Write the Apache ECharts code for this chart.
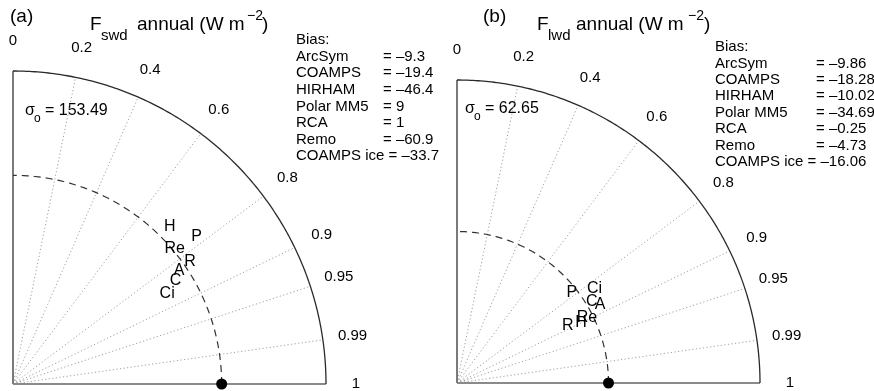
<!DOCTYPE html>
<html><head><meta charset="utf-8">
<script src="https://cdn.jsdelivr.net/npm/echarts@6/dist/echarts.min.js"></script>
<style>html,body{margin:0;padding:0;background:#fff}#c{width:874px;height:391px}</style>
</head><body><div id="c"></div>
<script>
// ---- data ----
const corrTicks = [0, 0.2, 0.4, 0.6, 0.8, 0.9, 0.95, 0.99, 1];
const corrTickLabels = ['0', '0.2', '0.4', '0.6', '0.8', '0.9', '0.95', '0.99', '1'];
const modelCodes = ['A', 'C', 'H', 'P', 'R', 'Re', 'Ci'];
const modelNames = ['ArcSym', 'COAMPS', 'HIRHAM', 'Polar MM5', 'RCA', 'Remo', 'COAMPS ice'];

// (a) F_swd annual: normalized std dev, correlation, bias
const swdStd = [0.964, 0.923, 1.065, 1.128, 1.031, 1.012, 0.856];
const swdCorr = [0.826, 0.844, 0.706, 0.780, 0.823, 0.766, 0.863];
const swdBias = ['-9.3', '-19.4', '-46.4', '9', '1', '-60.9', '-33.7'];
const swdSigmaObs = '153.49';
const swdStdMax = 1.5;

// (b) F_lwd annual
const lwdStd = [1.077, 1.041, 0.909, 0.964, 0.825, 0.959, 1.100];
const lwdCorr = [0.877, 0.855, 0.900, 0.787, 0.887, 0.894, 0.825];
const lwdBias = ['-9.86', '-18.28', '-10.02', '-34.69', '-0.25', '-4.73', '-16.06'];
const lwdSigmaObs = '62.65';
const lwdStdMax = 2.0;

// ---- layout ----
const FONT = '"Liberation Sans", Arial, Helvetica, sans-serif';
const panels = [
  { std: swdStd, corr: swdCorr, max: swdStdMax, bias: swdBias, sigma: swdSigmaObs,
    grid: { left: 13, top: 71, size: 313 }, letter: '(a)', sub: 'swd',
    title: { lx: 10, fx: 90, sx: 101, ax: 137, px: 247, cx: 262 },
    leg: { x: 296, ex: 383, y: 40, dy: 16.6 }, sig: { x: 25, y: 111 } },
  { std: lwdStd, corr: lwdCorr, max: lwdStdMax, bias: lwdBias, sigma: lwdSigmaObs,
    grid: { left: 457, top: 80, size: 303 }, letter: '(b)', sub: 'lwd',
    title: { lx: 483, fx: 537, sx: 548, ax: 576, px: 688, cx: 704 },
    leg: { x: 715, ex: 816, y: 47, dy: 16.4 }, sig: { x: 465, y: 109 } }
];

function fmtBias(s) { return s.charAt(0) === '-' ? '\u2013' + s.slice(1) : s; }
function polar(s, c) { const t = Math.acos(c); return [s * Math.cos(t), s * Math.sin(t)]; }
function arc(r) { const pts = []; for (let a = 0; a <= 90.001; a += 0.5) { const t = a * Math.PI / 180; pts.push([r * Math.cos(t), r * Math.sin(t)]); } return pts; }

const grids = [], xAxes = [], yAxes = [], series = [], graphics = [];
panels.forEach((p, i) => {
  grids.push({ left: p.grid.left, top: p.grid.top, width: p.grid.size, height: p.grid.size });
  xAxes.push({ gridIndex: i, type: 'value', min: 0, max: p.max, show: false });
  yAxes.push({ gridIndex: i, type: 'value', min: 0, max: p.max, show: false });
  const base = { xAxisIndex: i, yAxisIndex: i, type: 'line', symbol: 'none', silent: true, animation: false, clip: false };
  // correlation rays
  corrTicks.filter(c => c > 0 && c < 1).forEach(c => {
    series.push(Object.assign({}, base, { data: [[0, 0], polar(p.max, c)], lineStyle: { color: '#a0a0a0', width: 1, type: [1.2, 2.4] } }));
  });
  // axes
  series.push(Object.assign({}, base, { data: [[0, 0], [p.max, 0]], lineStyle: { color: '#8a8a8a', width: 2 } }));
  series.push(Object.assign({}, base, { data: [[0, 0], [0, p.max]], lineStyle: { color: '#7a7a7a', width: 2 } }));
  // outer arc
  series.push(Object.assign({}, base, { data: arc(p.max), lineStyle: { color: '#2a2a2a', width: 1.3 } }));
  // observed std arc (dashed)
  series.push(Object.assign({}, base, { data: arc(1), lineStyle: { color: '#333', width: 1.2, type: [7, 5] } }));
  // correlation labels
  const lr = p.max * (p.grid.size + 30) / p.grid.size;
  series.push({ xAxisIndex: i, yAxisIndex: i, type: 'scatter', symbolSize: 0, silent: true, animation: false, clip: false, z: 5,
    itemStyle: { opacity: 1 },
    data: corrTicks.map((c, k) => ({ value: polar(lr, c), name: corrTickLabels[k] })),
    label: { show: true, position: 'inside', formatter: '{b}', color: '#000', fontSize: 15, fontFamily: FONT } });
  // reference point
  series.push({ xAxisIndex: i, yAxisIndex: i, type: 'scatter', symbol: 'circle', symbolSize: 11, silent: true, animation: false, clip: false, z: 6,
    itemStyle: { color: '#000', opacity: 1 }, data: [[1, 0]] });
  // model markers (text)
  series.push({ xAxisIndex: i, yAxisIndex: i, type: 'scatter', symbolSize: 0, silent: true, animation: false, clip: false, z: 6,
    itemStyle: { opacity: 1 },
    data: p.std.map((s, k) => ({ value: polar(s, p.corr[k]), name: modelCodes[k] })),
    label: { show: true, position: 'inside', formatter: '{b}', color: '#000', fontSize: 16, fontFamily: FONT } });

  // texts
  const T = (text, x, y, size, extra) => graphics.push({ type: 'text', x, y, silent: true,
    style: Object.assign({ text, font: size + 'px ' + FONT, fill: '#000', align: 'left', verticalAlign: 'middle' }, extra || {}) });
  T(p.letter, p.title.lx, 17, 19);
  T('F', p.title.fx, 25, 19);
  T(p.sub, p.title.sx, 36, 15);
  T('annual (W m', p.title.ax, 25, 19);
  T('\u22122', p.title.px, 16, 14);
  T(')', p.title.cx, 25, 19);
  T('Bias:', p.leg.x, p.leg.y, 15);
  modelNames.forEach((n, k) => {
    const y = p.leg.y + p.leg.dy * (k + 1);
    if (k === modelNames.length - 1) {
      T(n + ' = ' + fmtBias(p.bias[k]), p.leg.x, y, 15);
    } else {
      T(n, p.leg.x, y, 15);
      T('= ' + fmtBias(p.bias[k]), p.leg.ex, y, 15);
    }
  });
  T('\u03c3', p.sig.x, p.sig.y, 16);
  T('o', p.sig.x + 9, p.sig.y + 8, 12);
  T('= ' + p.sigma, p.sig.x + 20, p.sig.y, 16);
});

const chart = echarts.init(document.getElementById('c'), null, { renderer: 'canvas' });
chart.setOption({ animation: false, backgroundColor: '#fff', grid: grids, xAxis: xAxes, yAxis: yAxes, series, graphic: graphics });
</script></body></html>
